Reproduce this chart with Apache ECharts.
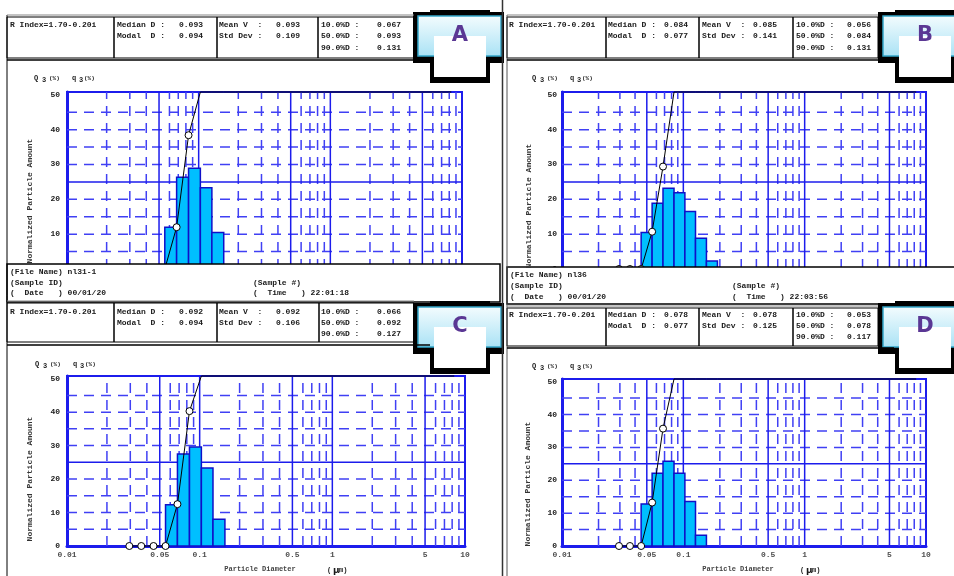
<!DOCTYPE html>
<html><head><meta charset="utf-8">
<script src="https://cdn.jsdelivr.net/npm/echarts@6/dist/echarts.min.js"></script>
<style>html,body{margin:0;padding:0;background:#fff}#c{width:954px;height:576px}</style>
</head><body><div id="c"></div>
<script>
// ---- data ----
const binEdges = [0.0295, 0.0363, 0.0449, 0.0553, 0.068, 0.0838, 0.103, 0.126, 0.155, 0.191];
const q3A = [0, 0, 0, 12.0, 26.3, 28.9, 23.3, 10.5, 0];
const Q3A = [0, 0, 0, 0, 12.0, 38.4, 67.3, 90.5, 100, 100];
const q3B = [0, 0, 10.5, 18.9, 23.2, 21.9, 16.5, 8.8, 2.3];
const Q3B = [0, 0, 0, 10.7, 29.4, 52.6, 74.5, 91.0, 99.8, 100];
const q3C = [0, 0, 0, 12.3, 27.5, 29.6, 23.3, 8.0, 0];
const Q3C = [0, 0, 0, 0, 12.5, 40.3, 69.9, 92.3, 100, 100];
const q3D = [0, 0, 12.8, 22.1, 25.8, 22.1, 13.5, 3.3, 0];
const Q3D = [0, 0, 0, 13.2, 35.7, 61.5, 83.6, 97.1, 100, 100];
const lineEnd = 8.3;
const xGridSolid = [0.05, 0.1, 0.5, 1, 5];
const xGridDashed = [0.02, 0.03, 0.04, 0.06, 0.07, 0.08, 0.09, 0.2, 0.3, 0.4, 0.6, 0.7, 0.8, 0.9, 2, 3, 4, 6, 7, 8, 9];
const yGridDashed = [5, 10, 15, 20, 30, 35, 40, 45];
const yGridSolid = [25];
const yTicks = [0, 10, 20, 30, 40, 50];
const xTickValues = [0.01, 0.05, 0.1, 0.5, 1, 5, 10];
const xTickLabels = ['0.01', '0.05', '0.1', '0.5', '1', '5', '10'];
const headerA = [['0.093', '0.094'], ['0.093', '0.109'], ['0.067', '0.093', '0.131']];
const headerB = [['0.084', '0.077'], ['0.085', '0.141'], ['0.056', '0.084', '0.131']];
const headerC = [['0.092', '0.094'], ['0.092', '0.106'], ['0.066', '0.092', '0.127']];
const headerD = [['0.078', '0.077'], ['0.078', '0.125'], ['0.053', '0.078', '0.117']];
const infoA = ['nl31-1', '00/01/20', '22:01:18'];
const infoB = ['nl36', '00/01/20', '22:03:56'];
const badgeLetters = ['A', 'B', 'C', 'D'];

// ---- chart ----
const YMAX = 50.8;
const F = '"Liberation Mono", "DejaVu Sans Mono", monospace';
const BLUE = '#1c1cec';
const DASHBLUE = '#4040f4';
const panels = [
  { grid: { left: 67, top: 92, width: 395, height: 177 }, q3: q3A, Q3: Q3A, xLabels: false, margin: 7 },
  { grid: { left: 562, top: 92, width: 364, height: 177 }, q3: q3B, Q3: Q3B, xLabels: false, margin: 5 },
  { grid: { left: 67, top: 376, width: 398, height: 170 }, q3: q3C, Q3: Q3C, xLabels: true, margin: 7 },
  { grid: { left: 562, top: 379, width: 364, height: 167 }, q3: q3D, Q3: Q3D, xLabels: true, margin: 5 }
];

const grids = [], xAxes = [], yAxes = [], series = [];
panels.forEach((p, i) => {
  grids.push(Object.assign({ show: true, borderColor: BLUE, borderWidth: 2, backgroundColor: 'transparent' }, p.grid));
  xAxes.push({ type: 'log', logBase: 10, min: 0.01, max: 10, gridIndex: i,
    axisLine: { show: true, onZero: false, lineStyle: { color: BLUE, width: 3 } },
    axisTick: { show: false }, axisLabel: { show: false }, splitLine: { show: false } });
  yAxes.push({ type: 'value', min: 0, max: YMAX, interval: 10, gridIndex: i,
    axisLine: { show: true, lineStyle: { color: BLUE, width: 3 } },
    axisTick: { show: false }, splitLine: { show: false },
    axisLabel: { formatter: v => (yTicks.indexOf(v) >= 0 ? String(v) : ''), fontFamily: F, fontSize: 8, fontWeight: 'bold', color: '#222', margin: p.margin } });

  const vLine = (vals, dashed, color) => ({
    type: 'custom', xAxisIndex: i, yAxisIndex: i, silent: true, z: 1,
    data: vals.map(v => [v, 0]), encode: { x: 0, y: 1 },
    renderItem: (params, api) => {
      const a = api.coord([api.value(0), 0]), b = api.coord([api.value(0), YMAX]);
      return { type: 'line', shape: { x1: a[0], y1: a[1], x2: b[0], y2: b[1] },
        style: { stroke: color, lineWidth: 1.5, lineDash: dashed ? [10, 7] : null } };
    }
  });
  const hLine = (vals, dashed, color) => ({
    type: 'custom', xAxisIndex: i, yAxisIndex: i, silent: true, z: 1,
    data: vals.map(v => [0.01, v]), encode: { x: 0, y: 1 },
    renderItem: (params, api) => {
      const a = api.coord([0.01, api.value(1)]), b = api.coord([10, api.value(1)]);
      return { type: 'line', shape: { x1: a[0], y1: a[1], x2: b[0], y2: b[1] },
        style: { stroke: color, lineWidth: 1.5, lineDash: dashed ? [10, 7] : null } };
    }
  });
  series.push(vLine(xGridDashed, true, DASHBLUE));
  series.push(hLine(yGridDashed, true, DASHBLUE));
  series.push(vLine(xGridSolid, false, BLUE));
  series.push(hLine(yGridSolid, false, BLUE));

  const bars = [];
  p.q3.forEach((v, k) => { if (v > 0) bars.push([binEdges[k], binEdges[k + 1], v]); });
  series.push({
    type: 'custom', xAxisIndex: i, yAxisIndex: i, z: 3,
    data: bars, encode: { x: [0, 1], y: 2 },
    renderItem: (params, api) => {
      const a = api.coord([api.value(0), 0]), b = api.coord([api.value(1), api.value(2)]);
      return { type: 'rect', shape: { x: a[0], y: b[1], width: b[0] - a[0], height: a[1] - b[1] },
        style: { fill: '#00bfff', stroke: '#1010c8', lineWidth: 1.5 } };
    }
  });

  const cum = p.Q3.map((v, k) => ({ value: [binEdges[k], Math.min(v, YMAX)], symbol: v > YMAX ? 'none' : 'circle' }));
  cum.push({ value: [lineEnd, YMAX], symbol: 'none' });
  series.push({
    type: 'line', xAxisIndex: i, yAxisIndex: i, z: 5, clip: false, data: cum,
    symbolSize: 7, showAllSymbol: true, silent: true,
    lineStyle: { color: '#000', width: 1 },
    itemStyle: { color: '#fff', borderColor: '#000', borderWidth: 1 }
  });

  if (p.xLabels) {
    series.push({
      type: 'scatter', xAxisIndex: i, yAxisIndex: i, z: 6, clip: false, silent: true,
      symbolSize: 0, data: xTickValues.map((v, k) => ({ value: [v, 0], name: xTickLabels[k] })),
      label: { show: true, position: 'bottom', distance: 5, formatter: d => d.name,
        fontFamily: F, fontSize: 8, fontWeight: 'bold', color: '#222' }
    });
  }
});

// ---- frame, tables and texts (graphic) ----
const els = [];
const Z = 100;
function rect(x, y, w, h, fill, stroke, lw) {
  els.push({ type: 'rect', z: Z, shape: { x, y, width: w, height: h }, style: { fill: fill || 'none', stroke: stroke || null, lineWidth: lw || 1 } });
}
function line(x1, y1, x2, y2, stroke, lw) {
  els.push({ type: 'line', z: Z + 1, shape: { x1, y1, x2, y2 }, style: { stroke: stroke || '#000', lineWidth: lw || 1 } });
}
function text(x, y, s, opt) {
  opt = opt || {};
  els.push({ type: 'text', z: Z + 2, x, y, rotation: opt.rot || 0,
    style: { text: s, font: opt.font || ('bold 8px ' + F), fill: opt.color || '#1a1a1a',
      align: opt.align || 'left', verticalAlign: 'middle', textAlign: opt.align || 'left', textVerticalAlign: 'middle' } });
}

// outer lines
line(7, 15, 7, 576, '#000', 1);
line(502.5, 0, 502.5, 576, '#333', 1.5);
line(507, 15, 507, 576, '#555', 1);

// header tables
function header(x0, y0, h, right, cols, tx, rows, vals) {
  rect(x0, y0, right - x0, h, '#fff', '#000', 1);
  line(x0, y0 - 2, right, y0 - 2, '#888', 1);
  cols.forEach(c => line(c, y0, c, y0 + h, '#000', 1.5));
  text(tx[0], rows[0], 'R Index=1.70-0.20i');
  text(tx[1], rows[0], 'Median D :'); text(tx[2], rows[0], vals[0][0]);
  text(tx[1], rows[1], 'Modal  D :'); text(tx[2], rows[1], vals[0][1]);
  text(tx[3], rows[0], 'Mean V  :'); text(tx[4], rows[0], vals[1][0]);
  text(tx[3], rows[1], 'Std Dev :'); text(tx[4], rows[1], vals[1][1]);
  text(tx[5], rows[0], '10.0%D :'); text(tx[6], rows[0], vals[2][0]);
  text(tx[5], rows[1], '50.0%D :'); text(tx[6], rows[1], vals[2][1]);
  text(tx[5], rows[2], '90.0%D :'); text(tx[6], rows[2], vals[2][2]);
}
const txL = [10, 117, 179, 219, 276, 321, 377];
const txR = [509, 608, 664, 702, 753, 796, 847];
header(7, 17, 41, 414, [114, 217, 318], txL, [25, 36, 48], headerA);
header(507, 17, 41, 878, [606, 699, 793], txR, [25, 36, 48], headerB);
header(7, 303, 39, 414, [114, 217, 319], txL, [312, 323, 334], headerC);
header(507, 308, 38, 878, [606, 699, 793], txR, [315, 326, 337], headerD);

// chart box top lines
line(7, 60, 430, 60, '#000', 1.5);
line(507, 60, 894, 60, '#000', 1.5);
line(7, 345, 430, 345, '#000', 1.5);
line(507, 348, 894, 348, '#000', 1.5);

// info boxes (cover the lower part of the top charts)
function info(x0, y0, w, h, tx, tx2, rows, v) {
  rect(x0, y0, w, h, '#fff', '#000', 1.5);
  text(tx, rows[0], '(File Name) ' + v[0]);
  text(tx, rows[1], '(Sample ID)');
  text(tx, rows[2], '(  Date   ) ' + v[1]);
  text(tx2, rows[1], '(Sample #)');
  text(tx2, rows[2], '(  Time   ) ' + v[2]);
}
info(7, 264, 493, 38, 10, 253, [272, 283, 293], infoA);
info(507, 267, 460, 37, 510, 732, [275, 286, 297], infoB);

// axis captions
function captions(qx, qy, nx, ny) {
  const f7 = '7px ' + F;
  text(qx, qy, 'Q', { font: 'bold ' + f7 });
  text(qx + 8, qy + 2.5, '3', { font: 'bold ' + f7 });
  text(qx + 15, qy, '(%)', { font: 'bold 6px ' + F });
  text(qx + 38, qy, 'q', { font: 'bold ' + f7 });
  text(qx + 45, qy + 2.5, '3', { font: 'bold ' + f7 });
  text(qx + 50, qy, '(%)', { font: 'bold 6px ' + F });
  text(nx, ny, 'Normalized Particle Amount', { rot: Math.PI / 2, align: 'center', font: 'bold 8px ' + F, color: '#333' });
}
captions(34, 78, 30, 201);
captions(532, 78, 529, 206);
captions(35, 364, 30, 479);
captions(532, 366, 528, 484);
text(260, 569, 'Particle Diameter', { align: 'center', font: 'bold 7px ' + F, color: '#444' });
text(327, 570, '(', { font: 'bold 7px ' + F });
text(333, 571, 'μ', { font: 'bold 9px "DejaVu Sans"' });
text(339, 570, 'm)', { font: 'bold 7px ' + F });
text(738, 569, 'Particle Diameter', { align: 'center', font: 'bold 7px ' + F, color: '#444' });
text(800, 570, '(', { font: 'bold 7px ' + F });
text(806, 571, 'μ', { font: 'bold 9px "DejaVu Sans"' });
text(812, 570, 'm)', { font: 'bold 7px ' + F });

// badges
function badge(dx, dy, letter) {
  rect(430 + dx, 10 + dy, 60, 4, '#000', null);
  rect(413 + dx, 12 + dy, 91, 51, '#000', null);
  rect(430 + dx, 60 + dy, 60, 23, '#000', null);
  els.push({ type: 'rect', z: Z, shape: { x: 418 + dx, y: 16 + dy, width: 83, height: 40 },
    style: { fill: new echarts.graphic.LinearGradient(0, 0, 0, 1, [{ offset: 0, color: '#f4fcfe' }, { offset: 1, color: '#a9e2f5' }]), stroke: '#35a6c9', lineWidth: 1.5 } });
  rect(434 + dx, 36 + dy, 52, 41, '#fff', null);
  text(460 + dx, 36 + dy, letter, { align: 'center', font: 'bold 21px "DejaVu Sans"', color: '#5a3794' });
}
badge(0, 0, badgeLetters[0]);
badge(465, 0, badgeLetters[1]);
badge(0, 291, badgeLetters[2]);
badge(465, 291, badgeLetters[3]);

const chart = echarts.init(document.getElementById('c'), null, { renderer: 'canvas' });
chart.setOption({
  animation: false,
  backgroundColor: '#fff',
  grid: grids, xAxis: xAxes, yAxis: yAxes, series: series,
  graphic: { elements: els }
});
</script>
</body></html>
